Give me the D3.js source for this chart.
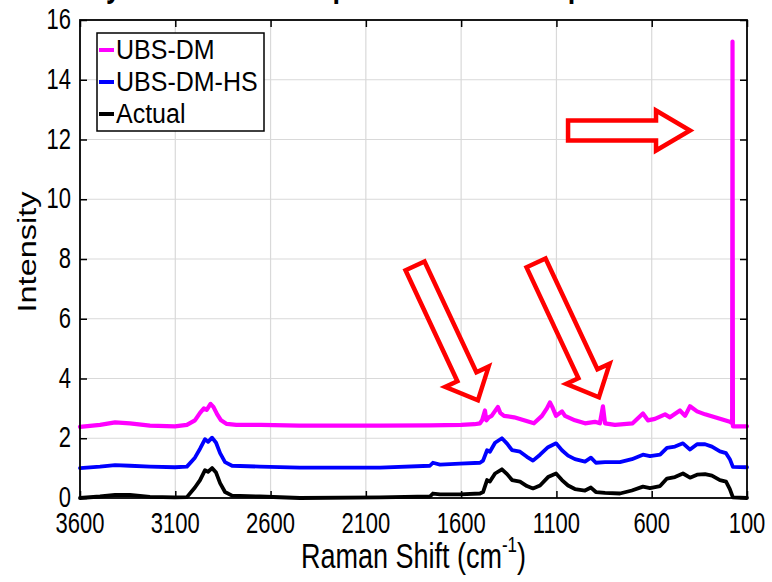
<!DOCTYPE html>
<html><head><meta charset="utf-8">
<script src="https://cdn.jsdelivr.net/npm/d3@7"></script>
<style>
html,body{margin:0;padding:0;background:#fff;}
svg{display:block;font-family:Arial,"Liberation Sans",sans-serif;}
</style></head>
<body><svg id="chart" width="772" height="582"></svg>
<script>
// ---- data ----
const titleText = "Synthetic Raman Spectrum with Sharp Peaks";
const xLabel = "Raman Shift (cm";
const yLabel = "Intensity";
const xTicks = [3600, 3100, 2600, 2100, 1600, 1100, 600, 100];
const yTicks = [0, 2, 4, 6, 8, 10, 12, 14, 16];
const seriesNames = ["UBS-DM", "UBS-DM-HS", "Actual"];
const seriesColors = ["#ff00ff", "#0000ff", "#000000"];

const shiftActual = [3600,3495,3416,3338,3233,3102,3039,2997,2970,2944,2928,2907,2886,2865,2839,2802,2656,2446,2026,1764,1748,1711,1606,1501,1485,1464,1449,1422,1386,1359,1333,1291,1255,1223,1186,1144,1102,1071,1039,1003,950,919,893,845,767,704,646,609,556,520,478,436,399,362,320,284,242,210,190,174,100];
const actual = [0.0,0.05,0.1,0.1,0.04,0.02,0.03,0.35,0.6,0.93,0.88,1.0,0.85,0.5,0.2,0.08,0.05,0.0,0.02,0.05,0.15,0.12,0.12,0.15,0.2,0.6,0.55,0.82,0.96,0.8,0.6,0.55,0.4,0.32,0.42,0.7,0.82,0.6,0.42,0.3,0.25,0.35,0.2,0.17,0.15,0.25,0.38,0.33,0.4,0.65,0.7,0.82,0.68,0.78,0.8,0.75,0.6,0.55,0.3,0.02,0.0];

const shiftHS = [3600,3495,3416,3338,3233,3102,3039,2997,2970,2944,2928,2907,2886,2865,2839,2802,2656,2446,2026,1764,1748,1711,1606,1501,1485,1464,1449,1422,1386,1359,1333,1291,1255,1223,1186,1144,1102,1071,1039,1003,950,919,893,845,767,704,646,609,556,520,478,436,399,362,320,284,242,210,190,174,100];
const ubsDmHs = [1.0,1.05,1.1,1.08,1.05,1.03,1.05,1.35,1.65,1.97,1.88,2.02,1.85,1.5,1.2,1.08,1.05,1.02,1.02,1.08,1.18,1.12,1.15,1.18,1.25,1.6,1.55,1.85,2.0,1.82,1.6,1.55,1.38,1.25,1.45,1.7,1.83,1.6,1.42,1.3,1.22,1.35,1.18,1.2,1.2,1.3,1.45,1.4,1.45,1.68,1.72,1.83,1.62,1.8,1.8,1.72,1.56,1.5,1.3,1.04,1.03];

const shiftDM = [3600,3495,3416,3338,3233,3102,3039,2997,2970,2950,2935,2915,2900,2880,2860,2830,2780,2650,2450,2026,1764,1600,1530,1501,1490,1475,1468,1455,1440,1407,1395,1375,1322,1270,1218,1176,1150,1134,1122,1102,1071,1055,1003,950,898,872,856,845,793,700,646,620,583,530,504,452,425,399,362,320,268,216,190,178,176,174,100];
const ubsDm = [2.38,2.45,2.53,2.5,2.42,2.4,2.45,2.6,2.85,3.0,2.95,3.15,3.05,2.8,2.6,2.48,2.45,2.45,2.42,2.42,2.43,2.45,2.47,2.5,2.6,2.93,2.6,2.7,2.75,3.05,2.85,2.75,2.7,2.6,2.5,2.75,3.0,3.2,3.05,2.75,2.9,2.75,2.6,2.5,2.55,2.5,3.07,2.5,2.45,2.5,2.83,2.6,2.65,2.8,2.7,2.93,2.75,3.07,2.9,2.8,2.7,2.6,2.55,2.5,15.28,2.4,2.4];

// annotation arrows: [shift, intensity] of tail centre and tip
const arrowTails = [[1842, 7.77], [1207, 7.87], [1039, 12.3]];
const arrowTips = [[1512, 3.27], [877, 3.37], [399, 12.3]];

// ---- layout ----
const W = 772, H = 582;
const m = {left: 80, right: 25, top: 20, bottom: 84};
const SY = 1.3; // vertical stretch of the text in the reference
const svg = d3.select("#chart");
const x = d3.scaleLinear().domain([3600, 100]).range([m.left, W - m.right]);
const y = d3.scaleLinear().domain([0, 16]).range([H - m.bottom, m.top]);
const pw = W - m.left - m.right, ph = H - m.top - m.bottom;

function sText(parent, tx, ty, str, size, anchor, sy, weight) {
  return parent.append("text")
    .attr("transform", `translate(${tx},${ty}) scale(1,${sy})`)
    .attr("text-anchor", anchor).attr("font-size", size)
    .attr("font-weight", weight || "normal").attr("fill", "#000").text(str);
}

// title (mostly above the visible area, as in the reference)
sText(svg, 88, -3, titleText, 27, "start", SY, "bold");

// grid
const grid = svg.append("g").attr("stroke", "#d9d9d9").attr("stroke-width", 1.2);
xTicks.slice(1, -1).forEach(t => grid.append("line").attr("x1", x(t)).attr("x2", x(t)).attr("y1", y(0)).attr("y2", y(16)));
yTicks.slice(1, -1).forEach(t => grid.append("line").attr("x1", x(3600)).attr("x2", x(100)).attr("y1", y(t)).attr("y2", y(t)));

// arrows
function arrowPoly(t, p, bw, hw, hl) {
  const x0 = x(t[0]), y0 = y(t[1]), x1 = x(p[0]), y1 = y(p[1]);
  const dx = x1 - x0, dy = y1 - y0, L = Math.hypot(dx, dy);
  const ux = dx / L, uy = dy / L, nx = -uy, ny = ux;
  const bx = x1 - ux * hl, by = y1 - uy * hl;
  return [
    [x0 + nx * bw / 2, y0 + ny * bw / 2],
    [bx + nx * bw / 2, by + ny * bw / 2],
    [bx + nx * hw / 2, by + ny * hw / 2],
    [x1, y1],
    [bx - nx * hw / 2, by - ny * hw / 2],
    [bx - nx * bw / 2, by - ny * bw / 2],
    [x0 - nx * bw / 2, y0 - ny * bw / 2]
  ];
}
const arrowG = svg.append("g");
arrowTails.forEach((t, i) => {
  const horiz = i === 2;
  arrowG.append("polygon")
    .attr("points", arrowPoly(t, arrowTips[i], horiz ? 20 : 21, horiz ? 40 : 48, horiz ? 34 : 26).map(d => d.join(",")).join(" "))
    .attr("fill", "#fff").attr("stroke", "#ff0000").attr("stroke-width", 4.5).attr("stroke-linejoin", "miter");
});

// lines
const series = [
  {name: seriesNames[0], xs: shiftDM, ys: ubsDm, color: seriesColors[0], w: 4.2},
  {name: seriesNames[1], xs: shiftHS, ys: ubsDmHs, color: seriesColors[1], w: 3.8},
  {name: seriesNames[2], xs: shiftActual, ys: actual, color: seriesColors[2], w: 3.8}
];
const line = d3.line().x(d => x(d[0])).y(d => y(d[1]));
series.slice().reverse().forEach(s => {
  svg.append("path").datum(s.xs.map((v, i) => [v, s.ys[i]]))
    .attr("d", line).attr("fill", "none").attr("stroke", s.color)
    .attr("stroke-width", s.w).attr("stroke-linejoin", "round").attr("stroke-linecap", "round");
});

// axes: inward ticks on all four sides, labels drawn separately
const tl = 7;
function styleAx(g) {
  g.select(".domain").remove();
  g.selectAll("text").remove();
  g.selectAll("line").attr("stroke", "#000").attr("stroke-width", 1.5);
}
svg.append("g").attr("transform", `translate(0,${y(0)})`).call(d3.axisBottom(x).tickValues(xTicks).tickSize(-tl)).call(styleAx);
svg.append("g").attr("transform", `translate(0,${y(16)})`).call(d3.axisTop(x).tickValues(xTicks).tickSize(-tl)).call(styleAx);
svg.append("g").attr("transform", `translate(${x(3600)},0)`).call(d3.axisLeft(y).tickValues(yTicks).tickSize(-tl)).call(styleAx);
svg.append("g").attr("transform", `translate(${x(100)},0)`).call(d3.axisRight(y).tickValues(yTicks).tickSize(-tl)).call(styleAx);
svg.append("rect").attr("x", m.left).attr("y", m.top).attr("width", pw).attr("height", ph)
  .attr("fill", "none").attr("stroke", "#000").attr("stroke-width", 1.8);

// tick labels (stretched like the reference)
const tickG = svg.append("g");
xTicks.forEach(t => sText(tickG, x(t), 533, String(t), 22, "middle", SY));
yTicks.forEach(t => sText(tickG, 71, y(t) + 9, String(t), 22, "end", SY));

// axis labels
const xl = sText(svg, m.left + pw / 2, 568, "", 27, "middle", SY);
xl.append("tspan").text(xLabel);
xl.append("tspan").attr("font-size", 17).attr("dy", -12).text("-1");
xl.append("tspan").attr("dy", 12).text(")");
svg.append("text").attr("transform", `translate(36,252) rotate(-90) scale(${SY},1)`)
  .attr("text-anchor", "middle").attr("font-size", 25).attr("fill", "#000").text(yLabel);

// legend
const lg = svg.append("g");
lg.append("rect").attr("x", 97).attr("y", 33).attr("width", 167).attr("height", 98)
  .attr("fill", "#fff").attr("stroke", "#000").attr("stroke-width", 1.5);
series.forEach((s, i) => {
  const cy = 50 + i * 32;
  lg.append("line").attr("x1", 99).attr("x2", 114).attr("y1", cy).attr("y2", cy)
    .attr("stroke", s.color).attr("stroke-width", 4);
  sText(lg, 116, cy + 9, s.name, 25, "start", 1.12);
});
</script></body></html>
